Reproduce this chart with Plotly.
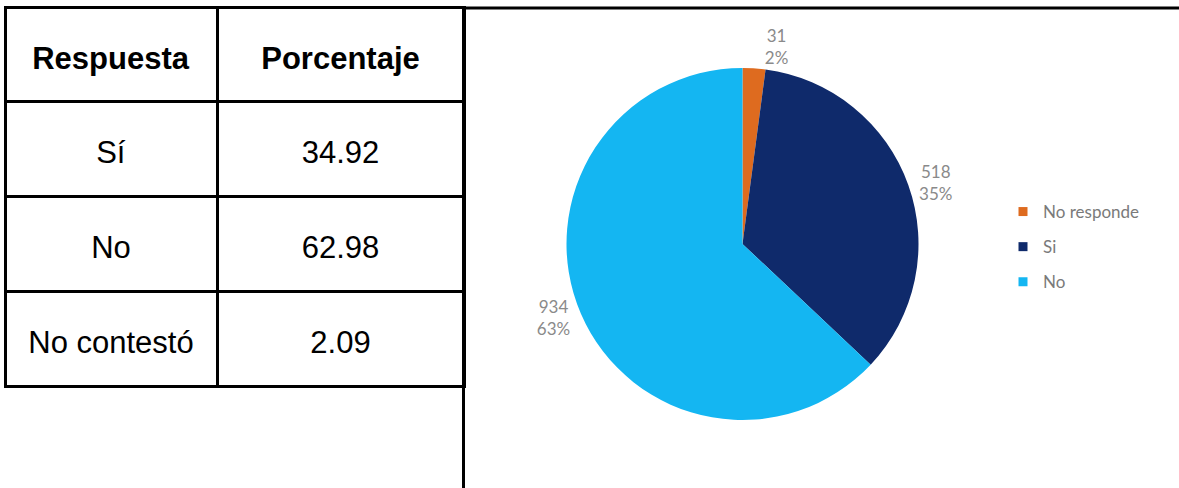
import plotly.graph_objects as go

# ---- data ----
tabla_respuestas = ["Sí", "No", "No contestó"]
tabla_porcentajes = [34.92, 62.98, 2.09]
tabla_encabezados = ["Respuesta", "Porcentaje"]

pie_labels = ["No responde", "Si", "No"]
pie_values = [31, 518, 934]
pie_colors = ["#DE6B1F", "#0F2A6B", "#14B6F2"]

W, H = 1179, 488
TXT = 31       # table text size
LEAD = 16      # size of the invisible leading line (vertical centring)


def px(x):
    return x / W


def py(y):
    return 1 - y / H


def cell_txt(s, bold=False):
    inner = "<b>%s</b>" % s if bold else s
    return "<span style='font-size:%dpx'>&nbsp;</span><br>%s" % (LEAD, inner)


fig = go.Figure()

fig.add_trace(go.Table(
    domain=dict(x=[px(5), px(464)], y=[py(395), py(7)]),
    columnwidth=[212, 247],
    header=dict(
        values=[cell_txt(h, True) for h in tabla_encabezados],
        height=94,
        align="center",
        fill_color="white",
        line=dict(color="black", width=3),
        font=dict(family="Liberation Sans, Arial", size=TXT, color="black"),
    ),
    cells=dict(
        values=[[cell_txt(r) for r in tabla_respuestas],
                [cell_txt("%.2f" % v) for v in tabla_porcentajes]],
        height=95,
        align="center",
        fill_color="white",
        line=dict(color="black", width=3),
        font=dict(family="Liberation Sans, Arial", size=TXT, color="black"),
    ),
))

fig.add_trace(go.Pie(
    labels=pie_labels,
    values=pie_values,
    sort=False,
    direction="clockwise",
    rotation=0,
    marker=dict(colors=pie_colors, line=dict(width=0)),
    texttemplate="%{value}<br>%{percent:.0%}",
    textposition="outside",
    outsidetextfont=dict(family="Lato, Open Sans", size=17, color="#8a8a8a"),
    showlegend=False,
    domain=dict(x=[px(566), px(919)], y=[py(420), py(68)]),
    hoverinfo="label+value+percent",
))

# legend entries (one group each so spacing can match)
for i, (lab, col) in enumerate(zip(pie_labels, pie_colors)):
    fig.add_trace(go.Scatter(
        x=[None], y=[None], mode="markers", name=lab,
        marker=dict(symbol="square", size=9, color=col),
        legendgroup="g%d" % i, showlegend=True,
    ))

# page-layout rules around the table
fig.add_shape(type="line", xref="paper", yref="paper",
              x0=px(463), x1=1, y0=py(8), y1=py(8),
              line=dict(color="black", width=3))
fig.add_shape(type="line", xref="paper", yref="paper",
              x0=px(463.5), x1=px(463.5), y0=py(8), y1=0,
              line=dict(color="black", width=3))

fig.update_layout(
    width=W, height=H,
    margin=dict(l=0, r=0, t=0, b=0),
    paper_bgcolor="white",
    plot_bgcolor="white",
    xaxis=dict(visible=False),
    yaxis=dict(visible=False),
    legend=dict(
        x=px(1003), y=py(194), xanchor="left", yanchor="top",
        font=dict(family="Lato, Open Sans", size=17, color="#7a7a7a"),
        tracegroupgap=10,
        itemwidth=30,
        bgcolor="rgba(0,0,0,0)",
    ),
)

fig.write_html("out.html", config={"displayModeBar": False},
               post_script="document.body.style.margin='0px';")
